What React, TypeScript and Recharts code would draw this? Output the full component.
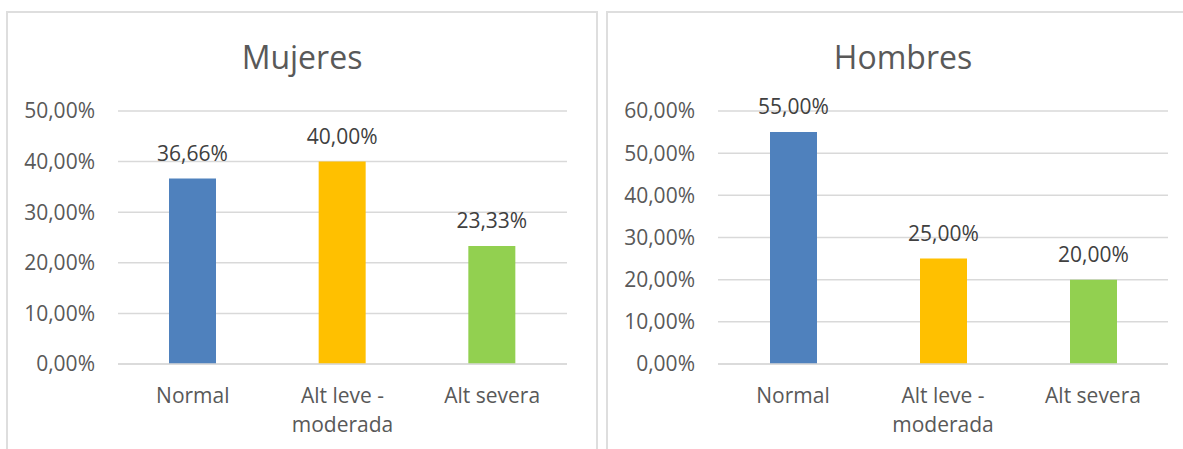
import { BarChart, Bar, XAxis, YAxis, CartesianGrid, LabelList, Cell } from 'recharts';

const categories = ['Normal', 'Alt leve - moderada', 'Alt severa'];
const mujeresValues = [36.66, 40.0, 23.33];
const hombresValues = [55.0, 25.0, 20.0];
const barColors = ['#4F81BD', '#FFC000', '#92D050'];
const mujeresTicks = [0, 10, 20, 30, 40, 50];
const hombresTicks = [0, 10, 20, 30, 40, 50, 60];

const FONT = '"Open Sans", Lato, sans-serif';
const AXIS_COLOR = '#595959';
const GRID_COLOR = '#D9D9D9';

const pct = (v: number) => `${v.toFixed(2).replace('.', ',')}%`;

const toRows = (values: number[]) => categories.map((name, i) => ({ name, value: values[i] }));

const CategoryTick = (props: any) => {
  const { x, y, payload } = props;
  const lines = String(payload.value).replace(' - ', ' -\n').split('\n');
  return (
    <text x={x} y={y} textAnchor="middle" fill={AXIS_COLOR} fontSize={21} fontFamily={FONT}>
      {lines.map((line, i) => (
        <tspan key={i} x={x} dy={29}>{line}</tspan>
      ))}
    </text>
  );
};

const ValueLabel = (props: any) => {
  const { x, y, width, value } = props;
  return (
    <text x={x + width / 2} y={y - 18} textAnchor="middle" fill="#404040" fontSize={21} fontFamily={FONT}>
      {pct(value)}
    </text>
  );
};

interface PanelProps {
  values: number[];
  ticks: number[];
  width: number;
  rightMargin: number;
}

const PanelChart = ({ values, ticks, width, rightMargin }: PanelProps) => (
  <BarChart
    width={width}
    height={449}
    data={toRows(values)}
    margin={{ top: 111, right: rightMargin, left: 0, bottom: 0 }}
    barSize={47}
  >
    <CartesianGrid vertical={false} stroke={GRID_COLOR} strokeWidth={1.5} />
    <XAxis
      dataKey="name"
      axisLine={{ stroke: GRID_COLOR, strokeWidth: 1.5 }}
      tickLine={false}
      tickSize={0}
      tickMargin={10}
      height={85}
      interval={0}
      tick={<CategoryTick />}
    />
    <YAxis
      width={118}
      domain={[0, ticks[ticks.length - 1]]}
      ticks={ticks}
      tickFormatter={pct}
      axisLine={false}
      tickLine={false}
      tickSize={0}
      tickMargin={23}
      tick={{ fill: AXIS_COLOR, fontSize: 21, fontFamily: FONT }}
    />
    <Bar dataKey="value" isAnimationActive={false}>
      {values.map((_, i) => (
        <Cell key={i} fill={barColors[i]} />
      ))}
      <LabelList dataKey="value" content={<ValueLabel />} />
    </Bar>
  </BarChart>
);

const titleStyle = (left: number, width: number): React.CSSProperties => ({
  position: 'absolute',
  left,
  width,
  top: 37,
  textAlign: 'center',
  fontFamily: FONT,
  fontSize: 32,
  color: AXIS_COLOR,
  lineHeight: '40px',
});

export default function App() {
  return (
    <div style={{ position: 'absolute', left: 0, top: 0, width: 1183, height: 449, overflow: 'hidden', background: '#fff' }}>
      <div style={{ position: 'absolute', left: 6, top: 11, width: 588, height: 460, border: '2px solid #DEDEDE' }} />
      <div style={{ position: 'absolute', left: 606, top: 11, width: 620, height: 460, border: '2px solid #DEDEDE' }} />
      <div style={{ position: 'absolute', left: 0, top: 0 }}>
        <PanelChart values={mujeresValues} ticks={mujeresTicks} width={600} rightMargin={33} />
      </div>
      <div style={{ position: 'absolute', left: 600, top: 0 }}>
        <PanelChart values={hombresValues} ticks={hombresTicks} width={583} rightMargin={15} />
      </div>
      <div style={titleStyle(7, 590)}>Mujeres</div>
      <div style={titleStyle(803, 200)}>Hombres</div>
    </div>
  );
}
